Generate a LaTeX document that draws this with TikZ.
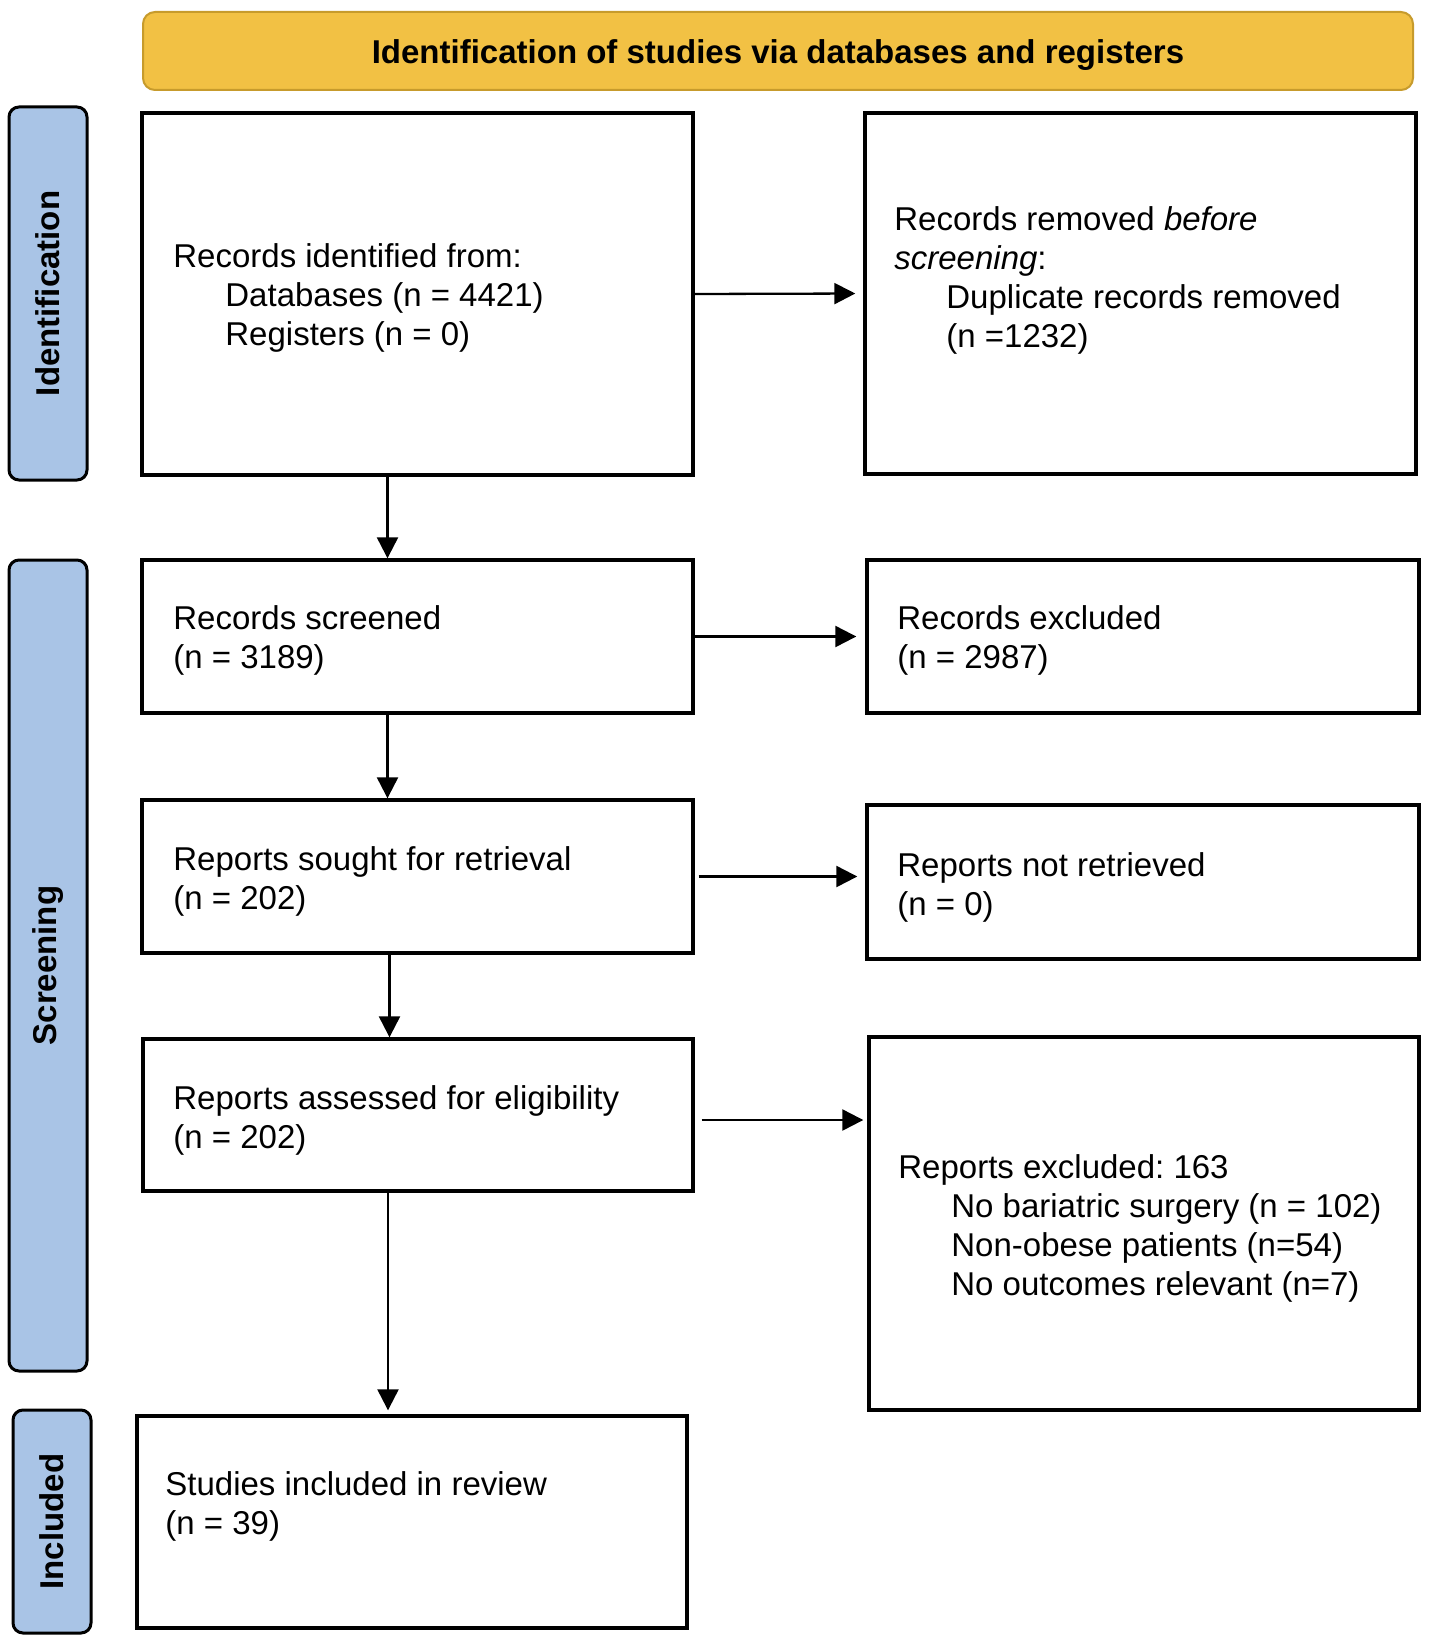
\documentclass[tikz,border=0pt]{standalone}
\usepackage{fontspec}
\setmainfont{Liberation Sans}
\usetikzlibrary{arrows.meta,fit}
\definecolor{bannerfill}{HTML}{F2C144}
\definecolor{bannerdraw}{HTML}{C79B2C}
\definecolor{sidefill}{HTML}{A9C4E6}
\frenchspacing
\begin{document}
\begin{tikzpicture}[x=0.5pt,y=-0.5pt,
  box/.style={draw=black, line width=1.7pt, inner sep=0pt, fill=white},
  side/.style={draw=black, line width=1.5pt, rounded corners=5pt, fill=sidefill, inner sep=0pt},
  banner/.style={draw=bannerdraw, line width=1pt, rounded corners=6pt, fill=bannerfill, inner sep=0pt},
  txt/.style={anchor=west, align=left, inner sep=0pt, font=\fontsize{16.5}{19.5}\selectfont},
  sidetxt/.style={rotate=90, inner sep=0pt, font=\bfseries\fontsize{16.5}{19.5}\selectfont},
  arr/.style={-{Triangle[length=10.5pt,width=10.5pt]}, line width=1.15pt}]
\useasboundingbox (0,0) rectangle (1429,1643);

% banner
\node[banner, fit={(143,12) (1413,90)}] (ban) {};
\node[inner sep=0pt, font=\bfseries\fontsize{16.5}{19.5}\selectfont] (bant) at ([yshift=-2pt]ban.center) {Identification of studies via databases and registers};

% side labels
\node[side, fit={(9,107) (87,480)}] (sid) {};
\node[sidetxt] (sidt) at (sid.center) {Identification};
\node[side, fit={(9,560) (87,1371)}] (sscr) {};
\node[sidetxt] (sscrt) at (sscr.center) {Screening};
\node[side, fit={(13,1410) (91,1633)}] (sinc) {};
\node[sidetxt] (sinct) at (sinc.center) {Included};

% boxes
\node[box, fit={(142,113) (693,475)}] (b1) {};
\node[box, fit={(865,113) (1416,474)}] (b2) {};
\node[box, fit={(142,560) (693,713)}] (b3) {};
\node[box, fit={(867,560) (1419,713)}] (b4) {};
\node[box, fit={(142,800) (693,953)}] (b5) {};
\node[box, fit={(867,805) (1419,959)}] (b6) {};
\node[box, fit={(143,1039) (693,1191)}] (b7) {};
\node[box, fit={(869,1037) (1419,1410)}] (b8) {};
\node[box, fit={(137,1416) (687,1628)}] (b9) {};

% texts
\node[txt] (t1) at (173,298) {Records identified from:\\\hspace*{26pt}Databases (n = 4421)\\\hspace*{26pt}Registers (n = 0)};
\node[txt] (t2) at (894,280) {Records removed \textit{before}\\\textit{screening}:\\\hspace*{26pt}Duplicate records removed\\\hspace*{26pt}(n =1232)};
\node[txt] (t3) at (173,640.5) {Records screened\\(n = 3189)};
\node[txt] (t4) at (897,640.5) {Records excluded\\(n = 2987)};
\node[txt] (t5) at (173,881) {Reports sought for retrieval\\(n = 202)};
\node[txt] (t6) at (897,887) {Reports not retrieved\\(n = 0)};
\node[txt] (t7) at (173,1120) {Reports assessed for eligibility\\(n = 202)};
\node[txt] (t8) at (898,1228.5) {Reports excluded: 163\\\hspace*{26.5pt}No bariatric surgery (n = 102)\\\hspace*{26.5pt}Non-obese patients (n=54)\\\hspace*{26.5pt}No outcomes relevant (n=7)};
\node[txt] (t9) at (165,1506) {Studies included in review\\(n = 39)};

% arrows
\draw[arr, shorten >=4pt] (b1.east) -- (b2.west);
\draw[arr, shorten >=4.5pt] (b3.east) -- (b4.west);
\draw[arr, shorten >=4pt] ([xshift=2pt]b5.east) -- (b5.east -| b6.west);
\draw[arr, shorten >=2pt] ([xshift=3.5pt,yshift=-2.5pt]b7.east) -- ([yshift=-2.5pt]b7.east -| b8.west);
\draw[arr] ([xshift=-15pt]b1.south) -- ([xshift=-15pt]b1.south |- b3.north);
\draw[arr] ([xshift=-15pt]b3.south) -- ([xshift=-15pt]b3.south |- b5.north);
\draw[arr] ([xshift=-14pt]b5.south) -- ([xshift=-14pt]b5.south |- b7.north);
\draw[arr, shorten >=2pt] ([xshift=-15pt]b7.south) -- ([xshift=-15pt]b7.south |- b9.north);
\end{tikzpicture}
\end{document}
